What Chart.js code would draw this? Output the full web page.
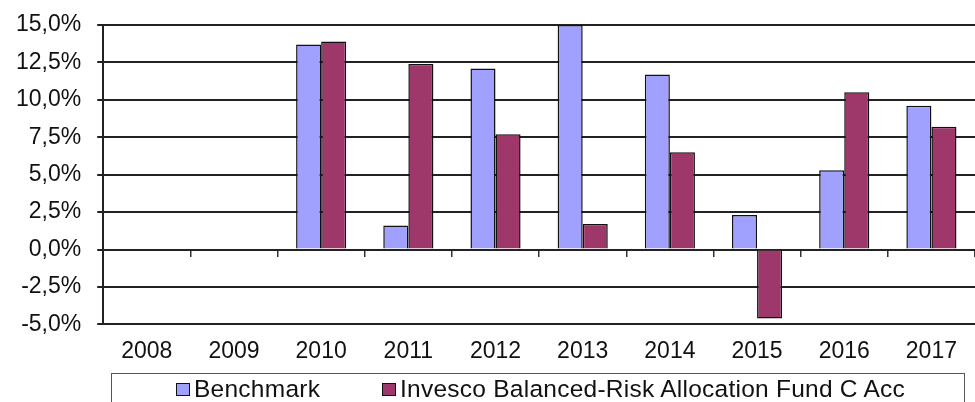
<!DOCTYPE html>
<html><head><meta charset="utf-8">
<script src="https://cdn.jsdelivr.net/npm/chart.js@4"></script>
<style>
html,body{margin:0;padding:0;background:#fff;overflow:hidden}
#wrap{position:relative;width:975px;height:402px}
#box{position:absolute;left:111px;top:373px;width:854px;height:40px;border:1.5px solid #555;box-sizing:border-box}
#legend{position:absolute;left:176px;top:375px;height:28px;display:flex;font:24.5px "Liberation Sans",Arial,sans-serif;letter-spacing:0.25px;line-height:28px;color:#111;white-space:nowrap}
.item{display:flex;align-items:center}
.sw{width:12px;height:11px;border:1px solid #111;margin-right:4px;box-sizing:content-box}
</style></head><body>
<div id="wrap"><canvas id="c" width="975" height="402"></canvas><div id="box"></div><div id="legend"></div></div>
<script>
const years = ['2008','2009','2010','2011','2012','2013','2014','2015','2016','2017'];
const benchmark = [null, null, 13.7, 1.6, 12.1, 15.0, 11.7, 2.3, 5.3, 9.6];
const fund = [null, null, 13.9, 12.4, 7.7, 1.7, 6.5, -4.6, 10.5, 8.2];
const seriesNames = ['Benchmark', 'Invesco Balanced-Risk Allocation Fund C Acc'];
const seriesColors = ['#A0A0FF', '#9E376A'];
const yTickValues = [-5, -2.5, 0, 2.5, 5, 7.5, 10, 12.5, 15];

Chart.defaults.font.family = '"Liberation Sans", Arial, sans-serif';
Chart.defaults.font.size = 23;
Chart.defaults.color = '#111';

const chart = new Chart(document.getElementById('c'), {
  type: 'bar',
  data: {
    labels: years,
    datasets: [
      { label: seriesNames[0], data: benchmark, backgroundColor: seriesColors[0], borderColor: '#111', borderWidth: 1.5 },
      { label: seriesNames[1], data: fund, backgroundColor: seriesColors[1], borderColor: '#111', borderWidth: 1.5 }
    ]
  },
  options: {
    responsive: false,
    animation: false,
    layout: { padding: { top: 25, left: 0, right: 0, bottom: 32 } },
    datasets: { bar: { categoryPercentage: 0.575, barPercentage: 1 } },
    plugins: { legend: { display: false }, tooltip: { enabled: false } },
    scales: {
      x: {
        type: 'category',
        position: 'bottom',
        offset: true,
        grid: { display: false },
        border: { display: false },
        ticks: { padding: 5, maxRotation: 0, autoSkip: false }
      },
      x2: {
        type: 'category',
        labels: years,
        position: { y: 0 },
        offset: true,
        grid: { offset: true, drawOnChartArea: false, drawTicks: true, tickLength: 7, color: '#333', lineWidth: 1.5 },
        border: { display: false },
        ticks: { display: false }
      },
      y: {
        min: -5,
        max: 15,
        afterBuildTicks: (s) => { s.ticks = yTickValues.map(v => ({ value: v })); },
        grid: { color: '#222', lineWidth: 2, tickLength: 6 },
        border: { display: true, color: '#222', width: 2 },
        ticks: { padding: 16, font: { lineHeight: 0.6 }, callback: (v) => v.toFixed(1).replace('.', ',') + '%' }
      }
    }
  }
});

const leg = document.getElementById('legend');
chart.data.datasets.forEach((ds, i) => {
  const it = document.createElement('div');
  it.className = 'item';
  if (i === 0) it.style.width = '206px';
  const sw = document.createElement('span');
  sw.className = 'sw';
  sw.style.background = ds.backgroundColor;
  const tx = document.createElement('span');
  tx.textContent = ds.label;
  it.appendChild(sw); it.appendChild(tx);
  leg.appendChild(it);
});
</script>
</body></html>
